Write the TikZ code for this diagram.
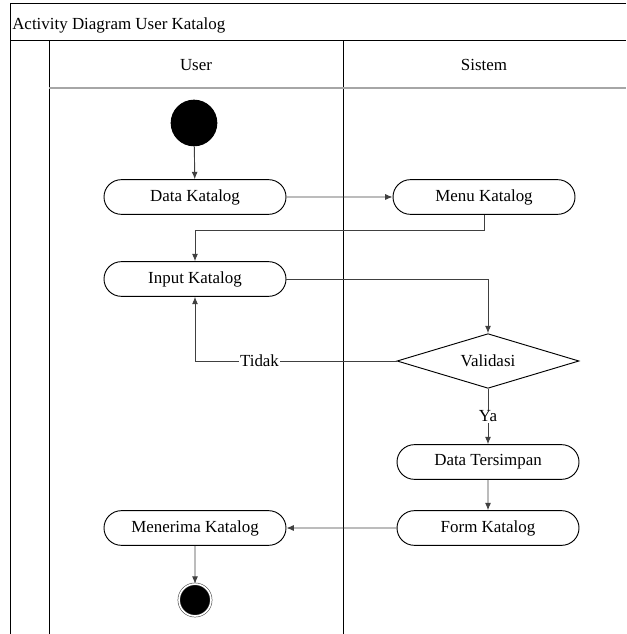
\documentclass[tikz,border=0pt]{standalone}
\usepackage{fontspec}
\setmainfont{Liberation Serif}
\usepackage{tikz}
\colorlet{colorFlow}{black!75}
\colorlet{colorLane}{black}
\colorlet{colorHead}{gray!70}
\usetikzlibrary{calc}
\usetikzlibrary{arrows.meta}
\usetikzlibrary{positioning}
\usetikzlibrary{shapes,shapes.misc,shapes.geometric}
\tikzset{
   every path/.style={>={Latex[length=5.5pt,width=4.5pt]}},
   act/.style={rounded rectangle,draw,line width=0.7pt,minimum width=136.5pt,minimum height=26pt,inner sep=0pt},
   decide/.style={diamond,draw,line width=0.7pt,aspect=3,minimum width=136.5pt,minimum height=41pt,inner sep=0pt},
   flow/.style={->,color=colorFlow,line width=0.7pt},
   lane/.style={color=colorLane,line width=0.75pt},
   guard/.style={fill=white,inner sep=1pt,text=black},
}

\begin{document}
\begin{tikzpicture}[x=0.75pt,y=-0.75pt,font=\fontsize{12.7}{15}\selectfont]

        \useasboundingbox (0,0) rectangle (626,634);

        % swimlane frame
        \draw[lane] (626,4) -- (10,4) -- (10,634);
        \draw[lane] (10,41) -- (626,41);
        \draw[lane] (49,41) -- (49,634);
        \draw[lane] (343,41) -- (343,634);
        \draw[color=colorHead,line width=1.2pt] (49,88) -- (626,88);

        \node[anchor=west,inner sep=0pt] (title) at (12,25) {Activity Diagram User Katalog};
        \node (laneU) at (196,65) {User};
        \node (laneS) at (484,65) {Sistem};

        % activities
        \node[circle,fill=black,minimum size=35pt,inner sep=0pt] (start) at (194,123) {};

        \node[act] (dataK)  at (195,197) {Data Katalog};
        \node[act] (menuK)  at (484,197) {Menu Katalog};
        \node[act] (inputK) at (195,279) {Input Katalog};
        \node[decide] (valid) at (488,361) {Validasi};
        \node[act] (simpan) at (488,462) {Data Tersimpan};
        \node[act] (formK)  at (488,528) {Form Katalog};
        \node[act] (terimaK) at (195,528) {Menerima Katalog};

        \node[circle,draw=colorFlow,double=white,double distance=1.2pt,fill=black,
              minimum size=24pt,inner sep=0pt] (end) at (195,600) {};

        % flows
        \draw[flow] (start) -- (dataK);
        \draw[flow] (dataK) -- (menuK);
        \draw[flow] (menuK.south) -- ++(0,16) -| (inputK.north);
        \draw[flow] (inputK.east) -| (valid.north);
        \draw[flow] (valid.west) -| node[guard,pos=0.34] {Tidak} (inputK.south);
        \draw[flow] (valid.south) -- node[guard] {Ya} (simpan.north);
        \draw[flow] (simpan) -- (formK);
        \draw[flow] (formK) -- (terimaK);
        \draw[flow] (terimaK) -- (end);

\end{tikzpicture}
\end{document}
